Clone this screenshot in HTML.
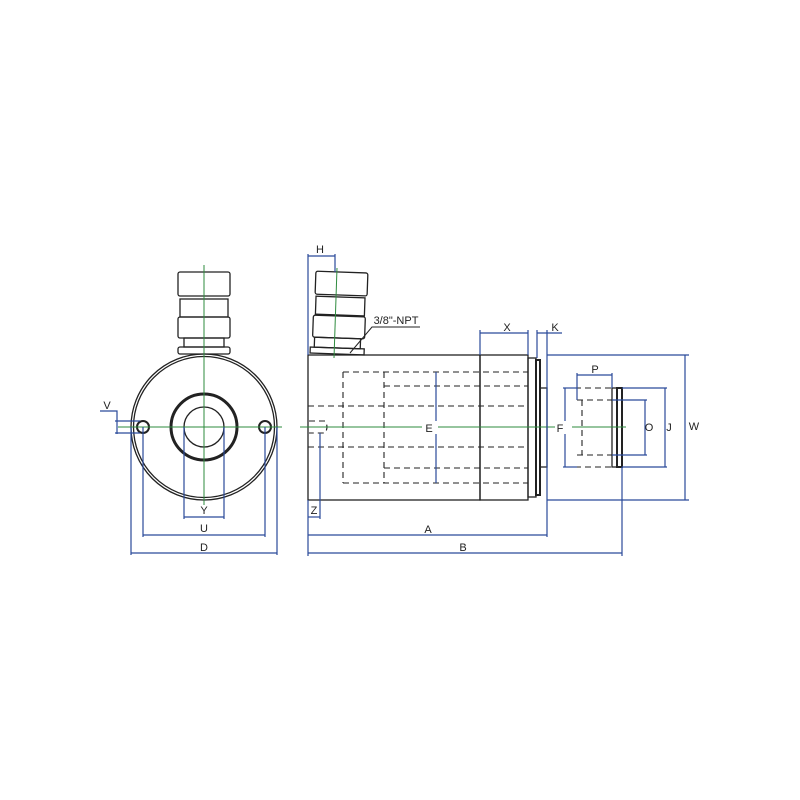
<!DOCTYPE html>
<html><head><meta charset="utf-8"><style>
html,body{margin:0;padding:0;background:#fff;}
svg{display:block;}
text{font-family:"Liberation Sans",sans-serif;font-size:11px;fill:#222;}
</style></head><body>
<svg width="800" height="800" viewBox="0 0 800 800" xmlns="http://www.w3.org/2000/svg">
<g fill="none" stroke="#222" stroke-width="1.3">
 <circle cx="204" cy="427" r="73"/>
 <circle cx="204" cy="427" r="70.5"/>
 <circle cx="204" cy="427" r="33" stroke-width="3"/>
 <circle cx="204" cy="427" r="20"/>
 <circle cx="143" cy="427" r="6" stroke-width="2"/>
 <circle cx="265" cy="427" r="6" stroke-width="2"/>
 <rect x="178" y="272" width="52" height="24" rx="2"/>
 <rect x="180" y="299" width="48" height="18"/>
 <rect x="178" y="317" width="52" height="21" rx="2"/>
 <rect x="184" y="338" width="40" height="9"/>
 <rect x="178" y="347" width="52" height="7" rx="2"/>
 <rect x="308" y="355" width="172" height="145"/>
 <rect x="480" y="355" width="48" height="145"/>
 <rect x="528" y="358" width="8" height="139"/>
 <rect x="536" y="360" width="4" height="135" stroke-width="2"/>
 <rect x="540" y="388" width="7" height="79"/>
 <g transform="rotate(2 338 355)">
  <rect x="313" y="272" width="52" height="23" rx="2"/>
  <rect x="314" y="297" width="49" height="18"/>
  <rect x="312" y="316" width="52" height="22" rx="2"/>
  <rect x="314" y="338" width="46" height="10"/>
  <rect x="310" y="348" width="54" height="6"/>
 </g>
 <polyline points="350,353 372,327 420,327" stroke-width="1"/>
 <g stroke-dasharray="6,4" stroke-width="1.1">
  <line x1="343" y1="372" x2="528" y2="372"/>
  <line x1="343" y1="483" x2="528" y2="483"/>
  <line x1="384" y1="386" x2="528" y2="386"/>
  <line x1="384" y1="468" x2="528" y2="468"/>
  <line x1="308" y1="406" x2="528" y2="406"/>
  <line x1="308" y1="447" x2="528" y2="447"/>
  <line x1="343" y1="372" x2="343" y2="483"/>
  <line x1="384" y1="372" x2="384" y2="483"/>
  <path d="M309 421 H325 Q329 427 325 433 H309"/>
  <line x1="565" y1="388" x2="612" y2="388"/>
  <line x1="565" y1="467" x2="612" y2="467"/>
  <line x1="577" y1="400" x2="612" y2="400"/>
  <line x1="577" y1="455" x2="612" y2="455"/>
  <line x1="582" y1="400" x2="582" y2="455"/>
 </g>
 <rect x="612" y="388" width="5" height="79"/>
 <rect x="617" y="388" width="5" height="79" stroke-width="2"/>
</g>
<g stroke="#2e8b3e" stroke-width="1">
 <line x1="204" y1="265" x2="204" y2="505"/>
 <line x1="118" y1="427" x2="282" y2="427"/>
 <line x1="337" y1="268" x2="334" y2="358"/>
 <line x1="300" y1="427" x2="422" y2="427"/>
 <line x1="438" y1="427" x2="555" y2="427"/>
 <line x1="572" y1="427" x2="626" y2="427"/>
</g>
<g stroke="#2a4a9a" stroke-width="1.2" fill="none">
 <line x1="184" y1="427" x2="184" y2="519"/><line x1="224" y1="427" x2="224" y2="519"/>
 <line x1="184" y1="517" x2="224" y2="517"/>
 <line x1="143" y1="427" x2="143" y2="537"/><line x1="265" y1="427" x2="265" y2="537"/>
 <line x1="143" y1="535" x2="265" y2="535"/>
 <line x1="131" y1="427" x2="131" y2="555"/><line x1="277" y1="427" x2="277" y2="555"/>
 <line x1="131" y1="553" x2="277" y2="553"/>
 <polyline points="100,411 117,411 117,434"/>
 <line x1="115" y1="421" x2="140" y2="421"/>
 <line x1="115" y1="433" x2="140" y2="433"/>
 <line x1="308" y1="254" x2="308" y2="355"/>
 <line x1="335" y1="254" x2="335" y2="272"/>
 <line x1="308" y1="256" x2="335" y2="256"/>
 <line x1="308" y1="500" x2="308" y2="556"/>
 <line x1="320" y1="433" x2="320" y2="519"/>
 <line x1="308" y1="517" x2="320" y2="517"/>
 <line x1="547" y1="330" x2="547" y2="537"/>
 <line x1="308" y1="535" x2="547" y2="535"/>
 <line x1="622" y1="467" x2="622" y2="556"/>
 <line x1="308" y1="553" x2="622" y2="553"/>
 <line x1="480" y1="330" x2="480" y2="355"/>
 <line x1="528" y1="330" x2="528" y2="355"/>
 <line x1="537" y1="330" x2="537" y2="358"/>
 <line x1="480" y1="333" x2="528" y2="333"/>
 <line x1="537" y1="333" x2="562" y2="333"/>
 <line x1="436" y1="372" x2="436" y2="421"/>
 <line x1="436" y1="434" x2="436" y2="483"/>
 <line x1="547" y1="355" x2="689" y2="355"/>
 <line x1="547" y1="500" x2="689" y2="500"/>
 <line x1="685" y1="355" x2="685" y2="500"/>
 <line x1="563" y1="388" x2="577" y2="388"/>
 <line x1="563" y1="467" x2="577" y2="467"/>
 <line x1="565" y1="388" x2="565" y2="421"/><line x1="565" y1="434" x2="565" y2="467"/>
 <line x1="577" y1="373" x2="577" y2="400"/>
 <line x1="612" y1="373" x2="612" y2="388"/>
 <line x1="577" y1="375" x2="612" y2="375"/>
 <line x1="612" y1="400" x2="647" y2="400"/>
 <line x1="612" y1="455" x2="647" y2="455"/>
 <line x1="645" y1="400" x2="645" y2="455"/>
 <line x1="622" y1="388" x2="667" y2="388"/>
 <line x1="622" y1="467" x2="667" y2="467"/>
 <line x1="665" y1="388" x2="665" y2="467"/>
</g>
<text x="204" y="514" text-anchor="middle">Y</text>
<text x="204" y="532" text-anchor="middle">U</text>
<text x="204" y="551" text-anchor="middle">D</text>
<text x="107" y="409" text-anchor="middle">V</text>
<text x="320" y="253" text-anchor="middle">H</text>
<text x="314" y="514" text-anchor="middle">Z</text>
<text x="428" y="533" text-anchor="middle">A</text>
<text x="463" y="551" text-anchor="middle">B</text>
<text x="507" y="331" text-anchor="middle">X</text>
<text x="555" y="331" text-anchor="middle">K</text>
<text x="396" y="324" text-anchor="middle">3/8"-NPT</text>
<text x="429" y="432" text-anchor="middle">E</text>
<text x="560" y="432" text-anchor="middle">F</text>
<text x="595" y="373" text-anchor="middle">P</text>
<text x="649" y="431" text-anchor="middle">O</text>
<text x="669" y="431" text-anchor="middle">J</text>
<text x="694" y="430" text-anchor="middle">W</text>
</svg>
</body></html>
